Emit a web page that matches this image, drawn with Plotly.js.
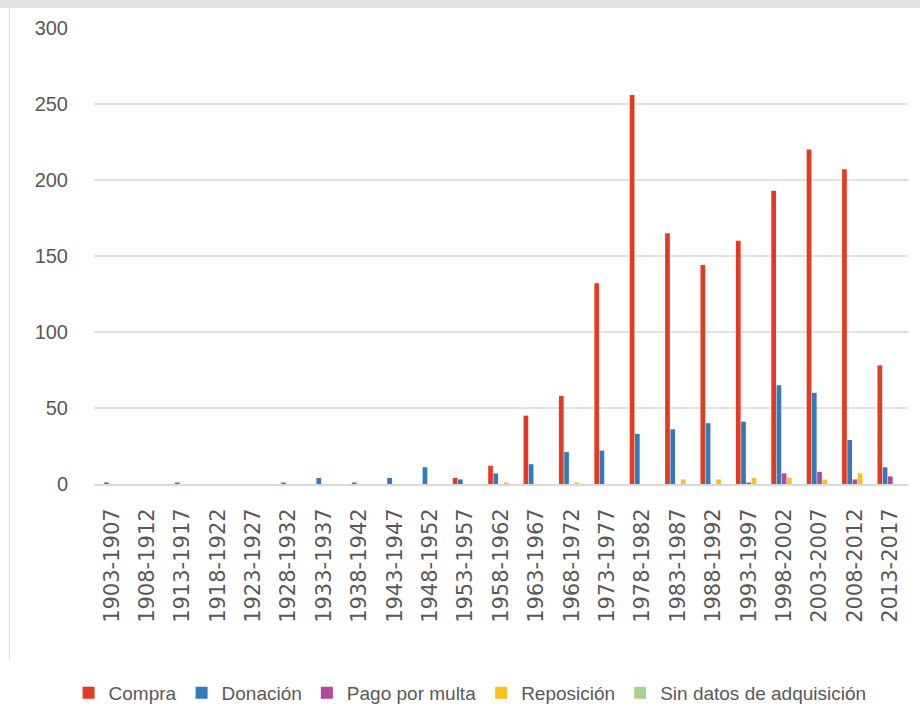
<!DOCTYPE html>
<html>
<head>
<meta charset="utf-8">
<script src="https://cdn.plot.ly/plotly-3.0.1.min.js"></script>
<style>
  html, body { margin: 0; padding: 0; background: #ffffff; }
  #wrap { position: relative; width: 920px; height: 711px; overflow: hidden; }
  #topband { position: absolute; left: 0; top: 0; width: 920px; height: 8px; background: #e2e2e0; z-index: 2; }
  #leftline { position: absolute; left: 9px; top: 8px; width: 1px; height: 652px; background: #dcdcdc; z-index: 2; }
  #chart { position: absolute; left: 0; top: 0; width: 920px; height: 711px; }
</style>
</head>
<body>
<div id="wrap">
  <div id="chart"></div>
  <div id="topband"></div>
  <div id="leftline"></div>
</div>
<script>
const periods = ["1903-1907","1908-1912","1913-1917","1918-1922","1923-1927","1928-1932","1933-1937","1938-1942","1943-1947","1948-1952","1953-1957","1958-1962","1963-1967","1968-1972","1973-1977","1978-1982","1983-1987","1988-1992","1993-1997","1998-2002","2003-2007","2008-2012","2013-2017"];

const compra      = [0,0,0,0,0,0,0,0,0,0,4,12,45,58,132,256,165,144,160,193,220,207,78];
const donacion    = [1,0,1,0,0,1,4,1,4,11,3,7,13,21,22,33,36,40,41,65,60,29,11];
const pagoMulta   = [0,0,0,0,0,0,0,0,0,0,0,0,0,0,0,0,0,0,1,7,8,3,5];
const reposicion  = [0,0,0,0,0,0,0,0,0,0,0,1,0,1,0,0,3,3,4,4,3,7,0];
const sinDatos    = [0,0,0,0,0,0,0,0,0,0,0,0,0,0,0,0,0,0,0,0,0,0,0];

const seriesNames = ["Compra","Donación","Pago por multa","Reposición","Sin datos de adquisición"];
const seriesValues = [compra, donacion, pagoMulta, reposicion, sinDatos];
const seriesColors = ["#e63a1e","#2f7bbd","#b5489c","#f7c31a","#a9d18e"];

const traces = seriesNames.map((n, i) => ({
  type: "bar",
  name: n,
  x: periods,
  y: seriesValues[i],
  marker: { color: seriesColors[i], line: { width: 0 } },
  hoverinfo: "x+y+name"
}));

const layout = {
  width: 920,
  height: 711,
  margin: { l: 94, r: 12, t: 28, b: 227, autoexpand: false },
  paper_bgcolor: "rgba(0,0,0,0)",
  plot_bgcolor: "#ffffff",
  barmode: "group",
  bargap: 0.26,
  bargroupgap: 0.1,
  showlegend: true,
  legend: {
    orientation: "h",
    x: 0.462, xanchor: "center",
    y: -0.458, yanchor: "middle",
    font: { family: "Liberation Sans, Arial, sans-serif", size: 19, color: "#595959" },
    itemwidth: 30,
    traceorder: "normal"
  },
  xaxis: {
    type: "category",
    automargin: false,
    tickangle: -90,
    tickfont: { family: "DejaVu Sans", size: 21, color: "#595959" },
    ticks: "outside", ticklen: 14, tickcolor: "rgba(0,0,0,0)",
    showgrid: false,
    showline: true, linecolor: "#d9d9d9", linewidth: 2,
    zeroline: false
  },
  yaxis: {
    automargin: false,
    range: [0, 300],
    tickvals: [0, 50, 100, 150, 200, 250, 300],
    ticktext: ["0","50","100","150","200","250","300"],
    tickfont: { family: "Liberation Sans, Arial, sans-serif", size: 20, color: "#595959" },
    ticks: "outside", ticklen: 21, tickcolor: "rgba(0,0,0,0)",
    showgrid: true, gridcolor: "#e2e2e2", gridwidth: 2,
    zeroline: false,
    showline: false
  }
};

Plotly.newPlot("chart", traces, layout, { displayModeBar: false, staticPlot: true });
</script>
</body>
</html>
